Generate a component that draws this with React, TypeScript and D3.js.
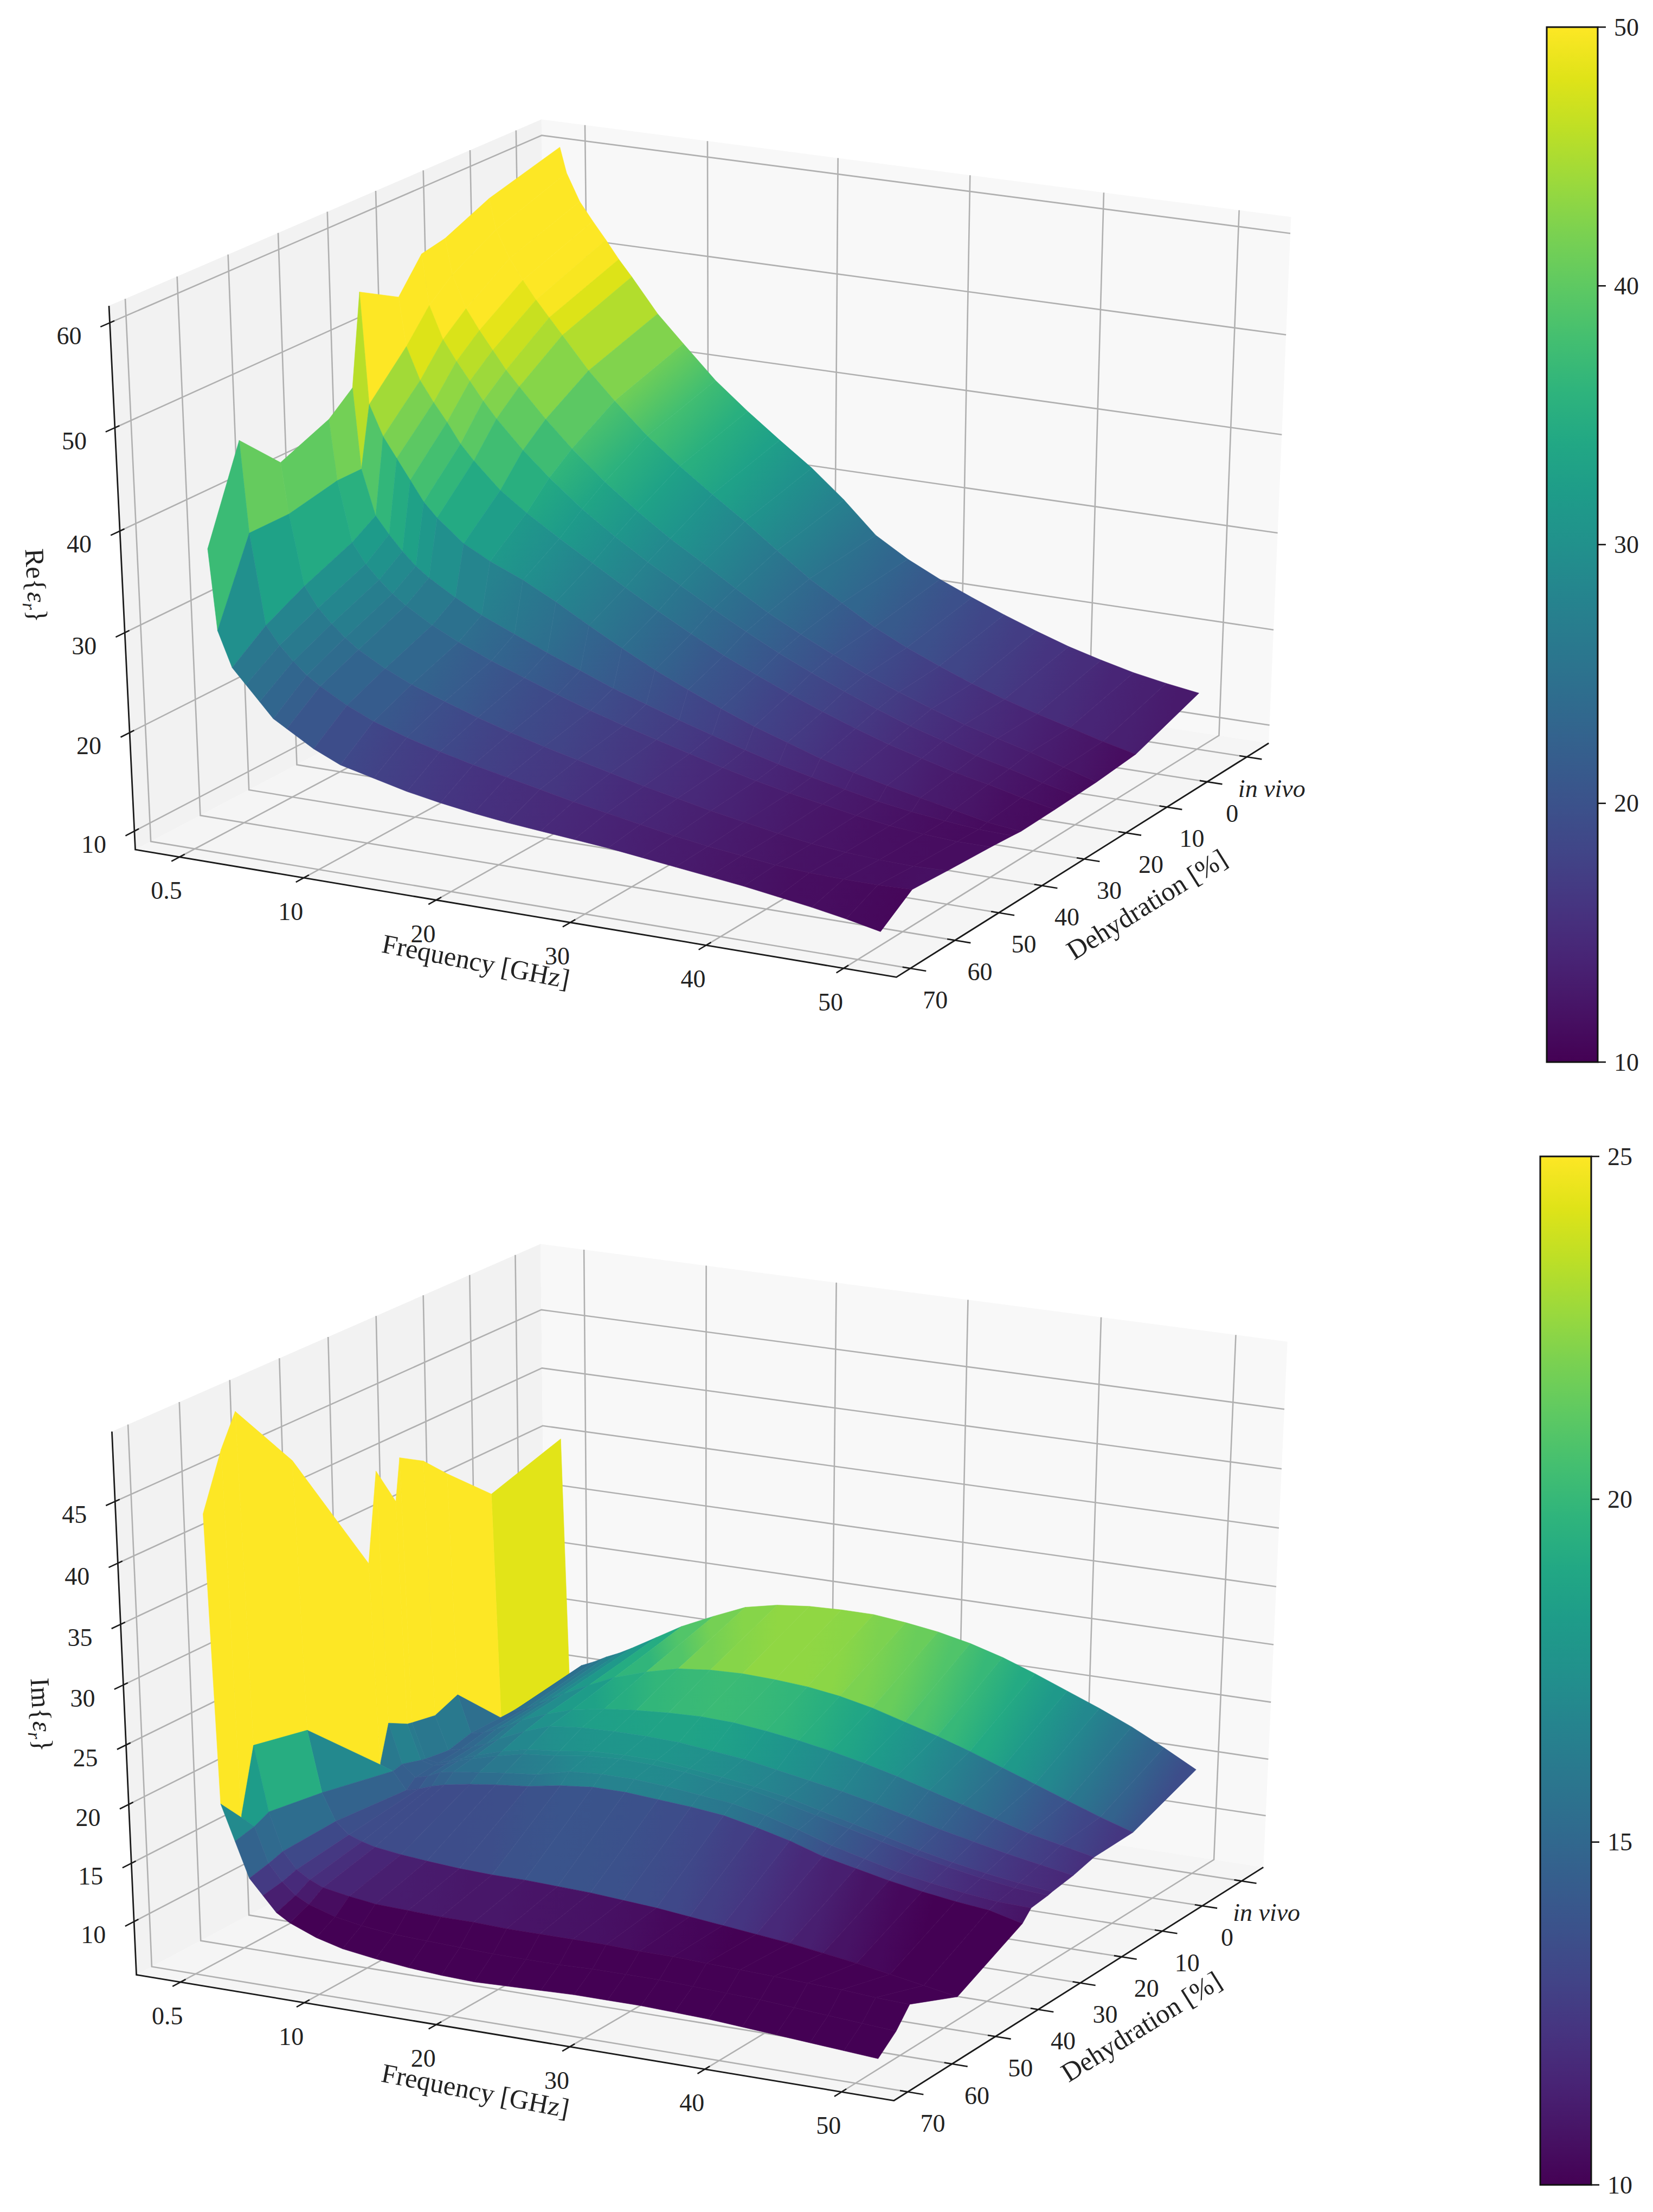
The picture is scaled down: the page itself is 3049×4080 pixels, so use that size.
import { interpolateViridis, line, range, scaleLinear, scaleSequential } from "d3";

const WIDTH = 3049;
const HEIGHT = 4080;
const FONT = "'Liberation Serif', serif";

const frequencies = [0.5, 1, 2, 3, 4, 5, 6, 8, 10, 12.5, 15, 17.5, 20, 22.5, 25, 27.5, 30, 32.5, 35, 37.5, 40, 42.5, 45, 47.5, 50];
const frequencyTicks = [0.5, 10, 20, 30, 40, 50];
// "in vivo" sits one step before 0 on the dehydration axis
const dehydrationTicks = [70, 60, 50, 40, 30, 20, 10, 0, -10];
const dehydrationLabels = ["70", "60", "50", "40", "30", "20", "10", "0", "in vivo"];

// real part, one array per measured dehydration level
const reRows = [-10, 5.5, 15, 20, 25, 33, 35, 40, 50, 58, 65];
const reInVivo = [60.5, 58, 55.3, 53.5, 51.8, 50, 48.4, 45, 42.3, 39, 36.3, 33.8, 31.4, 28.6, 25.4, 23.4, 21.8, 20.4, 19.1, 17.9, 16.8, 15.9, 15.1, 14.5, 14];
const re5 = [58.5, 55.5, 52.8, 50.8, 49, 47.4, 45.8, 42.6, 39.9, 36.8, 34.2, 31.8, 29.5, 27, 24.6, 22.6, 20.6, 19, 17.6, 16.3, 15.2, 14.2, 13.3, 12.4, 11.6];
const re15 = [56.5, 53, 49.8, 47.8, 46, 44.2, 42.7, 39.8, 37.2, 34.3, 31.8, 29.5, 27.5, 25.4, 23.4, 21.7, 20.1, 18.6, 17.3, 16.1, 15, 14.1, 13.2, 12.2, 11.2];
const re20 = [56, 51, 47.8, 45.8, 44, 42.2, 40.6, 37.8, 35.4, 32.7, 30.4, 28.3, 26.4, 24.5, 22.7, 21, 19.5, 18.1, 16.8, 15.6, 14.6, 13.6, 12.8, 11.9, 11.1];
const re25 = [52.8, 48, 44.8, 42.8, 41, 39, 37.5, 34.9, 33, 30.9, 28.9, 26.9, 25, 23.2, 21.5, 20, 18.6, 17.3, 16.1, 15, 14.1, 13.2, 12.5, 11.7, 11];
const re33 = [55, 44, 41, 39, 37, 35, 33.6, 31.4, 30, 28.6, 26.9, 25, 23.2, 21.5, 20, 18.6, 17.3, 16.2, 15.1, 14.2, 13.4, 12.7, 12, 11.3, 10.9];
const re35 = [46, 38, 33.5, 31.8, 30.3, 29, 28, 26.4, 25, 23.6, 22.2, 20.9, 19.6, 18.5, 17.4, 16.4, 15.4, 14.5, 13.7, 13, 12.3, 11.8, 11.4, 11.1, 11];
const re40 = [44, 38, 32, 30, 28.6, 27.4, 26.4, 24.8, 23.5, 22.1, 20.9, 19.7, 18.6, 17.6, 16.7, 15.8, 14.9, 14.1, 13.4, 12.8, 12.2, 11.7, 11.4, 11.2, 11.2];
const re50 = [42, 37, 30, 28, 26.6, 25.4, 24.4, 22.9, 21.7, 20.5, 19.4, 18.4, 17.5, 16.7, 15.9, 15.1, 14.4, 13.7, 13.1, 12.5, 12, 11.7, 11.5, 11.4, 11.5];
const re58 = [46, 37, 28, 26.2, 24.8, 23.6, 22.7, 21.2, 20, 18.9, 18, 17.2, 16.5, 15.8, 15.1, 14.5, 13.9, 13.3, 12.8, 12.4, 12, 11.8, 11.7, 11.7, 11.8];
const re65 = [37, 29, 25.5, 24, 22.5, 21, 20.2, 18.6, 17.4, 16.6, 15.8, 15.2, 14.7, 14.3, 14, 13.7, 13.4, 13, 12.6, 12.2, 11.8, 11.3, 10.8, 10.2, 9.5];
const reZTicks = [10, 20, 30, 40, 50, 60];
const reBarTicks = [10, 20, 30, 40, 50];

// imaginary part
const imRows = [-10, 5.5, 15, 20, 25, 26, 30, 32, 47, 58, 61, 65];
const imInVivo = [35.4, 14.5, 15.7, 16.2, 16.8, 17.3, 17.9, 19.2, 20.5, 21.8, 23, 23.6, 23.9, 24, 24, 23.7, 23.3, 22.7, 21.9, 20.9, 19.8, 18.7, 17.5, 16.1, 14.6];
const im5 = [33.5, 14, 14.8, 15.2, 15.8, 16.4, 17, 18.1, 19.1, 20, 20.7, 21, 21.1, 21, 20.8, 20.4, 19.8, 19, 18.2, 17.3, 16.3, 15.3, 14.3, 13.3, 12.4];
const im15 = [37, 18, 14.8, 15, 15.5, 16, 16.6, 17.5, 18.2, 18.7, 19, 19.2, 19.3, 19.2, 18.9, 18.5, 18, 17.4, 16.7, 15.9, 15.1, 14.3, 13.5, 12.9, 12.3];
const im20 = [39, 17.2, 14.3, 14.6, 15, 15.4, 16, 17, 17.8, 18.1, 18.2, 18.2, 18.1, 17.8, 17.5, 17, 16.5, 16, 15.4, 14.7, 14, 13.4, 12.8, 12.3, 11.8];
const im25 = [40.2, 17.6, 14.6, 14.4, 14.8, 15.2, 15.6, 16.3, 16.8, 17.1, 17.5, 17.6, 17.6, 17.3, 17, 16.6, 16.1, 15.4, 14.7, 14, 13.3, 12.7, 12.2, 11.8, 11.5];
const im26 = [36.7, 17.7, 14.7, 14.4, 14.7, 15.2, 15.5, 16.1, 16.6, 16.9, 17.3, 17.5, 17.4, 17.2, 16.8, 16.5, 15.9, 15.2, 14.5, 13.8, 13.1, 12.5, 12, 11.6, 11.4];
const im30 = [40, 18.6, 15.2, 14.2, 14.5, 15, 15.2, 15.5, 15.8, 16.1, 16.8, 17, 17, 16.8, 16.5, 16.2, 15.6, 14.8, 13.9, 13.2, 12.5, 12, 11.6, 11.3, 11.2];
const im32 = [32.6, 15.4, 15, 13.5, 13.8, 14.2, 14.5, 14.9, 15.2, 15.5, 16, 16.3, 16.3, 16.1, 15.9, 15.6, 15, 14.3, 13.4, 12.8, 12.2, 11.7, 11.3, 11, 10.3];
const im47 = [44, 21.5, 16.3, 14, 13, 12.6, 12.3, 12, 11.8, 11.6, 11.5, 11.5, 11.4, 11.3, 11.1, 10.9, 10.6, 10.3, 10, 9.7, 9.3, 8.9, 8.4, 7.9, 7.4];
const im58 = [50, 22.5, 17, 13.8, 12.4, 11.7, 11.2, 10.8, 10.5, 10.4, 10.3, 10.3, 10.2, 10.2, 10.2, 10.2, 10.1, 10.1, 10, 9.9, 9.8, 9.7, 9.6, 9.4, 9.3];
const im61 = [47.5, 17, 16.4, 13.4, 12, 11, 10.4, 9.7, 9.3, 9, 8.9, 8.8, 8.7, 8.7, 8.7, 8.8, 8.8, 8.8, 8.7, 8.6, 8.5, 8.3, 8.1, 7.9, 7.7];
const im65 = [43, 19, 16, 13, 11.7, 10.4, 9.7, 8.8, 8.2, 7.8, 7.5, 7.3, 7.2, 7.3, 7.4, 7.5, 7.5, 7.5, 7.4, 7.3, 7.1, 6.9, 6.7, 6.5, 6.3];
const imZTicks = [10, 15, 20, 25, 30, 35, 40, 45];
const imBarTicks = [10, 15, 20, 25];

type Pt = [number, number];

// unit cube corners that can be seen on the figure (u = freq, v = dehydration, w = value)
const cubeCorners = [
  [0, 0, 0],
  [1, 0, 0],
  [1, 1, 0],
  [0, 1, 0],
  [0, 0, 1],
  [0, 1, 1],
  [1, 1, 1],
];

const solve = (A: number[][], b: number[]) => {
  const n = b.length;
  const M = A.map((r, i) => [...r, b[i]]);
  for (let c = 0; c < n; c++) {
    let p = c;
    for (let r = c + 1; r < n; r++) if (Math.abs(M[r][c]) > Math.abs(M[p][c])) p = r;
    [M[c], M[p]] = [M[p], M[c]];
    for (let r = 0; r < n; r++) {
      if (r === c) continue;
      const f = M[r][c] / M[c][c];
      for (let k = c; k <= n; k++) M[r][k] -= f * M[c][k];
    }
  }
  return M.map((r, i) => r[n] / r[i]);
};

// least squares perspective camera from the corners
const fitCamera = (screen: Pt[]) => {
  const rows: number[][] = [];
  const rhs: number[] = [];
  cubeCorners.forEach(([u, v, w], i) => {
    const x = screen[i][0] / 1000;
    const y = screen[i][1] / 1000;
    rows.push([u, v, w, 1, 0, 0, 0, 0, -x * u, -x * v, -x * w]);
    rhs.push(x);
    rows.push([0, 0, 0, 0, u, v, w, 1, -y * u, -y * v, -y * w]);
    rhs.push(y);
  });
  const AtA = range(11).map((a) => range(11).map((b) => rows.reduce((s, r) => s + r[a] * r[b], 0)));
  const Atb = range(11).map((a) => rows.reduce((s, r, i) => s + r[a] * rhs[i], 0));
  const m = solve(AtA, Atb);
  return (u: number, v: number, w: number): Pt => {
    const d = m[8] * u + m[9] * v + m[10] * w + 1;
    return [
      (1000 * (m[0] * u + m[1] * v + m[2] * w + m[3])) / d,
      (1000 * (m[4] * u + m[5] * v + m[6] * w + m[7])) / d,
    ];
  };
};

const polygon = line<Pt>()
  .x((d) => d[0])
  .y((d) => d[1]);

const Panel = ({
  corners,
  zDomain,
  zTicks,
  rows,
  series,
  colorDomain,
  zLabel,
  zLabelPos,
  freqLabelPos,
  dehyLabelPos,
}: {
  corners: Pt[];
  zDomain: number[];
  zTicks: number[];
  rows: number[];
  series: number[][];
  colorDomain: number[];
  zLabel: string;
  zLabelPos: Pt;
  freqLabelPos: Pt;
  dehyLabelPos: Pt;
}) => {
  const project = fitCamera(corners);
  const uScale = scaleLinear().domain([-2.9, 53.8]).range([0, 1]);
  const vScale = scaleLinear().domain([73.1, -15.6]).range([0, 1]);
  const wScale = scaleLinear().domain(zDomain).range([0, 1]);
  const color = scaleSequential(interpolateViridis).domain(colorDomain).clamp(true);

  const at = (f: number, d: number, z: number) => project(uScale(f), vScale(d), wScale(z));
  const path = (pts: Pt[], close = false) => `${polygon(pts)}${close ? "Z" : ""}`;

  const panes = [
    { pts: [project(0, 0, 0), project(0, 1, 0), project(0, 1, 1), project(0, 0, 1)], fill: "#f2f2f2" },
    { pts: [project(0, 1, 0), project(1, 1, 0), project(1, 1, 1), project(0, 1, 1)], fill: "#f8f8f8" },
    { pts: [project(0, 0, 0), project(1, 0, 0), project(1, 1, 0), project(0, 1, 0)], fill: "#f5f5f5" },
  ];

  const grid: Pt[][] = [
    ...frequencyTicks.map((f) => {
      const u = uScale(f);
      return [project(u, 0, 0), project(u, 1, 0), project(u, 1, 1)];
    }),
    ...dehydrationTicks.map((d) => {
      const v = vScale(d);
      return [project(1, v, 0), project(0, v, 0), project(0, v, 1)];
    }),
    ...zTicks.map((z) => {
      const w = wScale(z);
      return [project(0, 0, w), project(0, 1, w), project(1, 1, w)];
    }),
  ];

  // back rows first, low frequency first: the camera looks from the front right
  const quads: { pts: Pt[]; z: number; zLeft: number; zRight: number; f: number }[] = [];
  rows.forEach((d, r) => {
    if (r === rows.length - 1) return;
    frequencies.slice(0, -1).forEach((f, c) => {
      const a = series[r][c];
      const b = series[r][c + 1];
      const e = series[r + 1][c + 1];
      const g = series[r + 1][c];
      quads.push({
        pts: [at(f, d, a), at(frequencies[c + 1], d, b), at(frequencies[c + 1], rows[r + 1], e), at(f, rows[r + 1], g)],
        z: (a + b + e + g) / 4,
        zLeft: (a + g) / 2,
        zRight: (b + e) / 2,
        f,
      });
    });
  });

  const tickStyle = { stroke: "#1a1a1a", strokeWidth: 2.6 };
  const textStyle = { fontFamily: FONT, fontSize: 46, fill: "#222", textAnchor: "middle" as const };

  return (
    <g>
      {panes.map((p, i) => (
        <path key={i} d={path(p.pts, true)} fill={p.fill} />
      ))}
      {grid.map((g, i) => (
        <path key={i} d={path(g)} fill="none" stroke="#b0b0b0" strokeWidth={2.6} />
      ))}

      <path d={path([project(0, 0, 1), project(0, 0, 0), project(1, 0, 0), project(1, 1, 0)])} fill="none" stroke="#1a1a1a" strokeWidth={2.8} />

      {frequencyTicks.map((f) => {
        const u = uScale(f);
        const [x, y] = project(u, 0, 0);
        return (
          <g key={f}>
            <path d={path([project(u, -0.018, 0), project(u, 0.012, 0)])} {...tickStyle} />
            <text x={x - 24} y={y + 62} dy=".34em" {...textStyle}>{f}</text>
          </g>
        );
      })}
      {dehydrationTicks.map((d, i) => {
        const v = vScale(d);
        const [x, y] = project(1, v, 0);
        return (
          <g key={d}>
            <path d={path([project(0.99, v, 0), project(1.02, v, 0)])} {...tickStyle} />
            <text x={x + 46} y={y + 58} dy=".34em" {...textStyle} fontStyle={d < 0 ? "italic" : "normal"}>
              {dehydrationLabels[i]}
            </text>
          </g>
        );
      })}
      {zTicks.map((z) => {
        const w = wScale(z);
        const [x, y] = project(0, 0, w);
        return (
          <g key={z}>
            <path d={path([project(0, -0.02, w), project(0, 0.01, w)])} {...tickStyle} />
            <text x={x - 75} y={y + 24} dy=".34em" {...textStyle}>{z}</text>
          </g>
        );
      })}

      {quads.map((q, i) => {
        // wide low frequency facets stay flat, the fine ones blend along the frequency
        if (q.f < 10) {
          return <path key={i} d={path(q.pts, true)} fill={color(q.z)} stroke={color(q.z)} strokeWidth={0.6} />;
        }
        const id = `${zLabel}-facet-${i}`;
        const left: Pt = [(q.pts[0][0] + q.pts[3][0]) / 2, (q.pts[0][1] + q.pts[3][1]) / 2];
        const right: Pt = [(q.pts[1][0] + q.pts[2][0]) / 2, (q.pts[1][1] + q.pts[2][1]) / 2];
        return (
          <g key={i}>
            <linearGradient id={id} gradientUnits="userSpaceOnUse" x1={left[0]} y1={left[1]} x2={right[0]} y2={right[1]}>
              <stop offset={0} stopColor={color(q.zLeft)} />
              <stop offset={1} stopColor={color(q.zRight)} />
            </linearGradient>
            <path d={path(q.pts, true)} fill={`url(#${id})`} stroke={`url(#${id})`} strokeWidth={0.6} />
          </g>
        );
      })}

      <text transform={`translate(${freqLabelPos}) rotate(11)`} dy=".34em" {...textStyle} fontSize={50}>
        Frequency [GHz]
      </text>
      <text transform={`translate(${dehyLabelPos}) rotate(-32)`} dy=".34em" {...textStyle} fontSize={50}>
        Dehydration [%]
      </text>
      <text transform={`translate(${zLabelPos}) rotate(87)`} dy=".3em" {...textStyle} fontSize={50}>
        {zLabel}{"{"}
        <tspan fontStyle="italic">ε</tspan>
        <tspan fontStyle="italic" fontSize={34} dy={10}>r</tspan>
        <tspan dy={-10}>{"}"}</tspan>
      </text>
    </g>
  );
};

const ColorBar = ({
  id,
  x0,
  x1,
  top,
  bottom,
  ticks,
}: {
  id: string;
  x0: number;
  x1: number;
  top: number;
  bottom: number;
  ticks: number[];
}) => {
  const y = scaleLinear()
    .domain([ticks[0], ticks[ticks.length - 1]])
    .range([bottom, top]);
  return (
    <g>
      <defs>
        <linearGradient id={id} x1="0" x2="0" y1="1" y2="0">
          {range(0, 1.001, 0.05).map((t) => (
            <stop key={t} offset={t} stopColor={interpolateViridis(t)} />
          ))}
        </linearGradient>
      </defs>
      <rect x={x0} y={top} width={x1 - x0} height={bottom - top} fill={`url(#${id})`} stroke="#111" strokeWidth={3} />
      {ticks.map((t) => (
        <g key={t}>
          <line x1={x1} x2={x1 + 15} y1={y(t)} y2={y(t)} stroke="#111" strokeWidth={2.6} />
          <text x={x1 + 30} y={y(t)} dy=".34em" fontFamily={FONT} fontSize={46} fill="#222">{t}</text>
        </g>
      ))}
    </g>
  );
};

export default function App() {
  return (
    <svg width={WIDTH} height={HEIGHT} style={{ position: "absolute", left: 0, top: 0, background: "#fff" }}>
      <Panel
        corners={[[248, 1555], [1655, 1811], [2340, 1360], [1013, 1180], [201, 568], [1000, 214], [2380, 403]]}
        zDomain={[8.1, 61.6]}
        zTicks={reZTicks}
        rows={reRows}
        series={[reInVivo, re5, re15, re20, re25, re33, re35, re40, re50, re58, re65]}
        colorDomain={[10, 50]}
        zLabel="Re"
        zLabelPos={[65, 1080]}
        freqLabelPos={[878, 1773]}
        dehyLabelPos={[2115, 1668]}
      />
      <Panel
        corners={[[250, 3630], [1651, 3883], [2330, 3434], [1008, 3255], [206, 2645], [999, 2288], [2373, 2477]]}
        zDomain={[5.4, 50.6]}
        zTicks={imZTicks}
        rows={imRows}
        series={[imInVivo, im5, im15, im20, im25, im26, im30, im32, im47, im58, im61, im65]}
        colorDomain={[10, 25]}
        zLabel="Im"
        zLabelPos={[75, 3163]}
        freqLabelPos={[877, 3856]}
        dehyLabelPos={[2105, 3738]}
      />
      <ColorBar id="reBar" x0={2853} x1={2947} top={50} bottom={1959} ticks={reBarTicks} />
      <ColorBar id="imBar" x0={2841} x1={2935} top={2133} bottom={4030} ticks={imBarTicks} />
    </svg>
  );
}
